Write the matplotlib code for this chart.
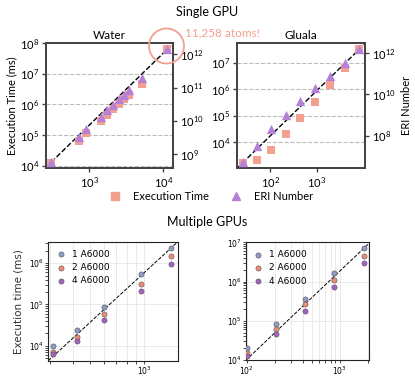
import matplotlib
matplotlib.use("Agg")
import matplotlib.pyplot as plt
import numpy as np
from matplotlib.patches import Ellipse
from matplotlib.lines import Line2D

plt.rcParams["font.family"] = ["Lato", "DejaVu Sans"]
plt.rcParams["mathtext.fontset"] = "custom"
plt.rcParams["mathtext.rm"] = "Lato"
plt.rcParams["mathtext.it"] = "Lato:italic"
plt.rcParams["mathtext.bf"] = "Lato:bold"

# ---- single GPU data ----
water_atoms = [300, 725, 900, 1425, 1740, 2100, 2500, 2950, 3400, 5100, 11258]
water_time = [1.26e4, 6.5e4, 1.15e5, 2.95e5, 4.6e5, 7.1e5, 1.0e6, 1.48e6, 2.1e6, 4.8e6, 6.2e7]
water_eri = [5.6e8, 3.3e9, 5.5e9, 1.32e10, 2.1e10, 3.0e10, 4.4e10, 5.9e10, 8.3e10, 1.95e11, 1.41e12]

gluala_atoms = [26, 52, 104, 217, 437, 912, 1910, 3900, 8040]
gluala_time = [1.7e3, 2.14e3, 5.1e3, 2.04e4, 8.3e4, 3.4e5, 1.45e6, 6.2e6, 3.16e7]
gluala_eri = [5.1e6, 3.16e7, 2.1e8, 1.0e9, 4.6e9, 2.0e10, 7.9e10, 3.3e11, 1.58e12]

# ---- multiple GPU data ----
gpu_labels = ["1 A6000", "2 A6000", "4 A6000"]
mw_atoms = [312, 423, 601, 958, 1407]
mw_1 = [9.6e3, 2.4e4, 8.7e4, 5.3e5, 2.3e6]
mw_2 = [7.2e3, 1.6e4, 5.7e4, 3.2e5, 1.47e6]
mw_4 = [6.3e3, 1.3e4, 4.1e4, 2.1e5, 9.4e5]
mw_slope = 4.0

mg_atoms = [102, 207, 423, 877, 1820]
mg_1 = [2.05e4, 8.3e4, 3.5e5, 1.67e6, 7.0e6]
mg_2 = [1.5e4, 6.3e4, 2.6e5, 1.1e6, 4.5e6]
mg_4 = [1.3e4, 4.6e4, 1.8e5, 7.1e5, 2.9e6]
mg_slope = 2.25

sq_color = "#F4A090"
tri_color = "#B580D8"
gpu_colors = ["#8E9AC8", "#EE8A78", "#A361C4"]
spine_color = "#444444"

W, H = 415, 384
fig = plt.figure(figsize=(W / 100, H / 100), dpi=100)


def px_axes(x0, y0, x1, y1):
    return fig.add_axes([x0 / W, 1 - y1 / H, (x1 - x0) / W, (y1 - y0) / H])


def fit_line(ax, x, y):
    # dashed power-law line through first and last points
    lx, ly = np.log10([x[0], x[-1]]), np.log10([y[0], y[-1]])
    k = (ly[1] - ly[0]) / (lx[1] - lx[0])
    xs = np.array(ax.get_xlim())
    ax.plot(xs, 10 ** (ly[0] + k * (np.log10(xs) - lx[0])), ls="--", color="black", lw=1.0, zorder=2)


def single_panel(box, title, atoms, times, eris, xlim, ylim, ylim2, xticks, twin_ticks, left_label, right_label):
    ax = px_axes(*box)
    ax.set_xscale("log")
    ax.set_yscale("log")
    ax.set_xlim(xlim)
    ax.set_ylim(ylim)
    ax.set_xticks(xticks)
    ax.yaxis.grid(True, which="major", ls="--", color="#bbbbbb", lw=0.8)
    ax.minorticks_off()
    fit_line(ax, atoms, times)
    ax.scatter(atoms, times, marker="s", s=40, color=sq_color, lw=0, zorder=3)
    ax2 = ax.twinx()
    ax2.set_yscale("log")
    ax2.set_ylim(ylim2)
    ax2.scatter(atoms, eris, marker="^", s=45, color=tri_color, lw=0, zorder=4)
    ax2.set_yticks(twin_ticks)
    ax2.minorticks_off()
    for a in (ax, ax2):
        for sp in a.spines.values():
            sp.set_color(spine_color)
            sp.set_linewidth(1.3)
        a.tick_params(labelsize=8, length=3, width=1, color=spine_color, pad=2)
    ax.set_title(title, fontsize=8.5, pad=3)
    if left_label:
        ax.set_ylabel("Execution Time (ms)", fontsize=8, labelpad=2)
    if right_label:
        ax2.set_ylabel("ERI Number", fontsize=8, labelpad=4)
    return ax, ax2


single_panel((46, 43, 173, 168), "Water", water_atoms, water_time, water_eri,
             (260, 13490), (8510, 1e8), (3.8e8, 2.19e12), [1e3, 1e4], [1e9, 1e10, 1e11, 1e12], True, False)
single_panel((237, 43, 365, 168), "Gluala", gluala_atoms, gluala_time, gluala_eri,
             (19.6, 10700), (1070, 5.5e7), (2.7e6, 3.16e12), [1e2, 1e3], [1e8, 1e10, 1e12], False, True)

fig.text(0.5, 1 - 12 / H, "Single GPU", ha="center", va="center", fontsize=9)
fig.text(185 / W, 1 - 33 / H, "11,258 atoms!", ha="left", va="center", fontsize=8.5,
         color="#F4A090")
fig.add_artist(Ellipse((166.5 / W, 1 - 46 / H), 35 / W, 35 / H, transform=fig.transFigure,
                       fill=False, edgecolor="#F0A090", lw=1.3))

handles = [Line2D([], [], marker="s", ls="", color=sq_color, markersize=6),
           Line2D([], [], marker="^", ls="", color=tri_color, markersize=6)]
fig.legend(handles, ["Execution Time", "ERI Number"], ncol=2, frameon=False, fontsize=8,
           loc="center", bbox_to_anchor=(211 / W, 1 - 196 / H), handlelength=1.0,
           columnspacing=1.95, handletextpad=1.1)

fig.text(0.5, 1 - 222 / H, "Multiple GPUs", ha="center", va="center", fontsize=9)


def multi_panel(box, atoms, series, slope, xlim, ylim, ylabel):
    ax = px_axes(*box)
    ax.set_xscale("log")
    ax.set_yscale("log")
    ax.set_xlim(xlim)
    ax.set_ylim(ylim)
    ax.grid(True, which="major", color="#e6e6e6", lw=0.6)
    ax.xaxis.grid(True, which="minor", color="#e6e6e6", lw=0.6)
    xs = np.array(xlim)
    lx0, ly0 = np.log10(atoms[-1]), np.log10(series[0][-1])
    ax.plot(xs, 10 ** (ly0 + slope * (np.log10(xs) - lx0)), ls="--", color="black", lw=0.7, zorder=2)
    for vals, lab, c in zip(series, gpu_labels, gpu_colors):
        ax.scatter(atoms, vals, s=14, color=c, edgecolor="#555555", lw=0.4, label=lab, zorder=3)
    leg = ax.legend(loc="upper left", frameon=False, fontsize=6.5, handlelength=1.0, handletextpad=0.7,
                    borderaxespad=0.5, labelspacing=0.45)
    for t in leg.get_texts():
        t.set_family("DejaVu Sans")
    for sp in ax.spines.values():
        sp.set_color("#222222")
        sp.set_linewidth(0.8)
    ax.tick_params(which="both", labelsize=5.5, length=2, width=0.5, pad=1)
    ax.tick_params(which="minor", labelbottom=False, labelleft=False)
    if ylabel:
        ax.set_ylabel("Execution time (ms)", fontsize=7.5, family="DejaVu Sans", color="#333333")
    for lab in ax.get_xticklabels() + ax.get_yticklabels():
        lab.set_family("DejaVu Sans")
    return ax


multi_panel((48.3, 241.7, 177.7, 360.5), mw_atoms, [mw_1, mw_2, mw_4], mw_slope,
            (293, 1535), (4370, 3.3e6), True)
multi_panel((245.7, 242.3, 369.3, 360), mg_atoms, [mg_1, mg_2, mg_4], mg_slope,
            (98, 2090), (1e4, 1e7), False)

fig.savefig("out.png", dpi=100)
